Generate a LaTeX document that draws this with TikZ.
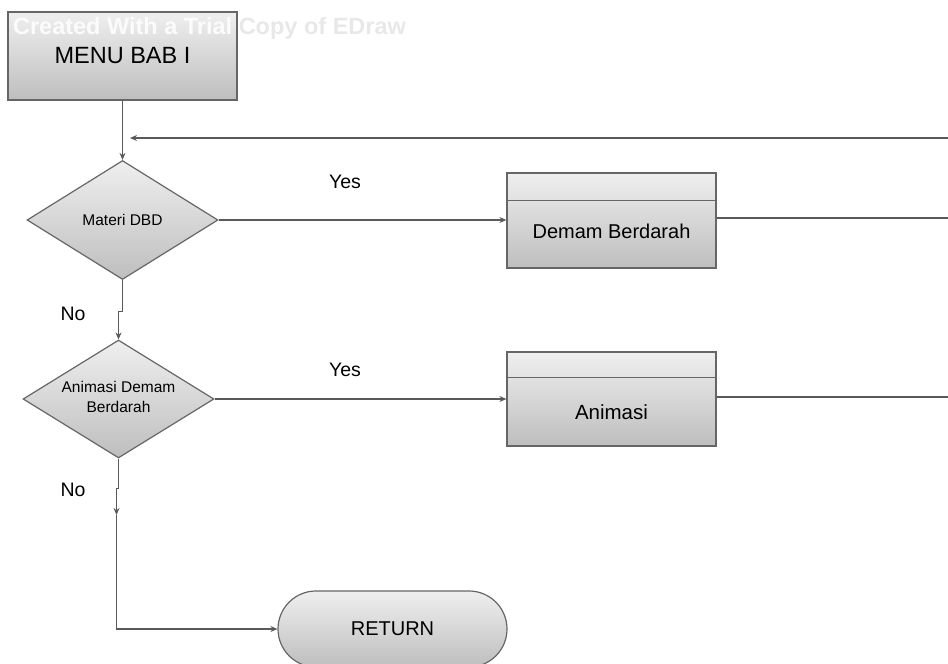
\documentclass[tikz,border=0pt]{standalone}
\usepackage{fontspec}
\setmainfont{Liberation Sans}
\usetikzlibrary{shapes.geometric,arrows.meta,calc}
\definecolor{edgegray}{HTML}{666666}
\definecolor{linegray}{HTML}{5A5A5A}
\definecolor{filltop}{HTML}{EFEFEF}
\definecolor{fillbot}{HTML}{BEBEBE}
\definecolor{markgray}{HTML}{E8E8E8}
\newcommand{\fsz}[1]{\fontsize{#1}{#1}\selectfont}
\tikzset{
  shaded/.style={draw=edgegray, line width=1.2pt, top color=filltop, bottom color=fillbot, inner sep=0pt},
  procbox/.style={shaded, rectangle, minimum width=229pt, minimum height=88pt},
  decision/.style={shaded, diamond, minimum width=191pt, minimum height=119pt},
  dtext/.style={align=center, font=\fsz{15.5}, inner sep=0pt},
  subbox/.style={shaded, rectangle, minimum width=209pt, minimum height=95pt},
  terminal/.style={shaded, rectangle, rounded corners=38pt, minimum width=229pt, minimum height=76pt},
  conn/.style={draw=linegray, line width=1.1pt},
  arr/.style={conn, -{Stealth[length=7pt,width=6pt]}},
  lbl/.style={font=\fsz{19.5}, inner sep=0pt}
}
\begin{document}
\begin{tikzpicture}[x=1pt, y=-1pt]
\useasboundingbox (0,0) rectangle (948,664);

% process and decision nodes
\node[procbox] (menu) at (122.5,56) {\fsz{23.5}MENU BAB I};
\node[decision] (d1) at (122.5,220) {};
\node[dtext] (d1t) at (d1.center) {Materi DBD};
\node[decision, minimum height=118pt] (d2) at (118.5,399) {};
\node[dtext] (d2t) at (118.5,397) {Animasi Demam\\[4pt]Berdarah};
\node[subbox] (b1) at (611.5,220.5) {};
\node[subbox, minimum height=94pt] (b2) at (611.5,399) {};
\node[terminal] (ret) at (392.5,629) {\fsz{20}RETURN};

% header strips of the sub-process boxes
\draw[draw=edgegray, line width=1.4pt] ([yshift=-28pt]b1.north west) -- ([yshift=-28pt]b1.north east);
\draw[draw=edgegray, line width=1.4pt] ([yshift=-26pt]b2.north west) -- ([yshift=-26pt]b2.north east);
\node[font=\fsz{20}] (t1) at (611.5,231) {Demam Berdarah};
\node[font=\fsz{20.5}] (t2) at (611.5,412) {Animasi};

% loose ends at the right border
\coordinate (fbR) at (948,138);
\coordinate (fbL) at (130,138);
\coordinate (e1) at (948,218);
\coordinate (e2) at (948,397);
\coordinate (j) at (116.5,515);

% connectors
\draw[arr] (menu.south) -- (d1.north);
\draw[arr] (fbR) -- (fbL);
\draw[arr] (d1.east) -- (d1.east -| b1.west);
\draw[conn] (b1.east |- e1) -- (e1);
\draw[arr] (d2.east) -- (d2.east -| b2.west);
\draw[conn] (b2.east |- e2) -- (e2);
\draw[arr] (d1.south) -- ++(0,31) -| (d2.north);
\draw[arr] (d2.south) -- ++(0,30) -| (j);
\draw[arr] (j) |- (ret.west);

% branch labels
\node[lbl] (y1) at (345,182) {Yes};
\node[lbl] (y2) at (345,370) {Yes};
\node[lbl] (n1) at (73,314) {No};
\node[lbl] (n2) at (73,490) {No};

% watermark
\begin{scope}
  \clip (0,0) rectangle (236,100);
  \node[font=\bfseries\fsz{23.5}, text=white!97!gray] (wm1) at (209.5,28) {Created With a Trial Copy of EDraw};
\end{scope}
\begin{scope}
  \clip (236,0) rectangle (948,100);
  \node[font=\bfseries\fsz{23.5}, text=markgray] (wm2) at (209.5,28) {Created With a Trial Copy of EDraw};
\end{scope}
\end{tikzpicture}
\end{document}
